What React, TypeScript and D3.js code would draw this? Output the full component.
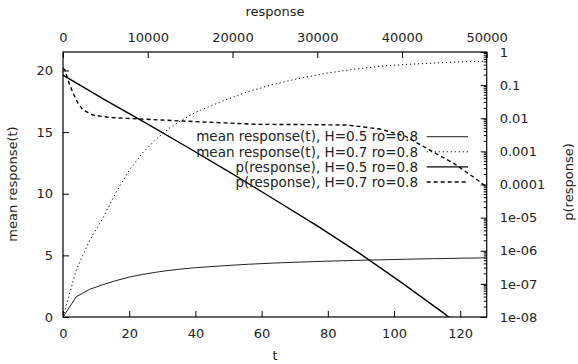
import React, { useRef, useEffect } from 'react';
import * as d3 from 'd3';

// mean response(t) series, bottom/left axes
const tValues = [0, 4, 8, 12, 16, 20, 24, 28, 32, 36, 40, 48, 56, 64, 72, 80, 88, 96, 104, 112, 120, 128];
const meanH05 = [0, 1.64, 2.24, 2.62, 2.95, 3.24, 3.45, 3.63, 3.78, 3.9, 4.0, 4.15, 4.28, 4.38, 4.46, 4.53, 4.59, 4.64, 4.69, 4.73, 4.77, 4.8];
const meanH07 = [0, 3.8, 6.2, 8.0, 10.1, 11.9, 13.3, 14.4, 15.3, 16.0, 16.6, 17.5, 18.3, 18.9, 19.4, 19.8, 20.1, 20.35, 20.5, 20.6, 20.7, 20.75];

// p(response) series, top/right axes
const respH05 = [0, 5000, 10000, 15000, 20000, 25000, 30000, 35000, 40000, 45000, 47000];
const pH05 = [0.2, 0.0355, 0.00661, 0.0012, 0.000209, 3.47e-5, 5.62e-6, 8.32e-7, 1.07e-7, 1.26e-8, 5.0e-9];
const respH07 = [0, 236, 590, 1180, 1770, 2360, 3540, 5546, 7552, 14160, 22892, 27966, 33512, 37406, 40356, 43306, 46256, 48616, 50000];
const pH07 = [0.329, 0.286, 0.143, 0.0577, 0.0288, 0.0177, 0.0125, 0.0105, 0.00993, 0.00822, 0.00655, 0.00646, 0.00624, 0.00472, 0.0029, 0.00109, 0.000413, 0.000156, 0.0000834];

const xTicks = [0, 20, 40, 60, 80, 100, 120];
const yTicks = [0, 5, 10, 15, 20];
const x2Ticks = [0, 10000, 20000, 30000, 40000, 50000];
const y2Ticks = [1, 0.1, 0.01, 0.001, 0.0001, 1e-5, 1e-6, 1e-7, 1e-8];
const y2Labels = ['1', '0.1', '0.01', '0.001', '0.0001', '1e-05', '1e-06', '1e-07', '1e-08'];

const legendLabels = [
    'mean response(t), H=0.5 ro=0.8',
    'mean response(t), H=0.7 ro=0.8',
    'p(response), H=0.5 ro=0.8',
    'p(response), H=0.7 ro=0.8'
];

const styles = [
    { stroke: '#222', width: 1, dash: null as string | null },
    { stroke: '#000', width: 1, dash: '1.2,2.8' },
    { stroke: '#000', width: 1.4, dash: null as string | null },
    { stroke: '#000', width: 1.4, dash: '4,3' }
];

const FONT = '"DejaVu Sans", sans-serif';

export default function App() {
    const svgRef = useRef<SVGSVGElement | null>(null);

    useEffect(() => {
        if (!svgRef.current) return;
        const svg = d3.select(svgRef.current);
        svg.selectAll('*').remove();

        const W = 578, H = 364;
        const left = 63, right = 486.7, top = 52, bottom = 317;

        const x = d3.scaleLinear().domain([0, 128]).range([left, right]);
        const y = d3.scaleLinear().domain([0, 21.5]).range([bottom, top]);
        const x2 = d3.scaleLinear().domain([0, 50000]).range([left, right]);
        const y2 = d3.scaleLog().domain([1e-8, 1]).range([bottom, top]);

        svg.attr('width', W).attr('height', H);

        svg.append('rect').attr('width', W).attr('height', H).attr('fill', '#fff');

        svg.append('defs').append('clipPath').attr('id', 'plotClip')
            .append('rect')
            .attr('x', left).attr('y', top)
            .attr('width', right - left).attr('height', bottom - top);

        const styleAxis = (g: d3.Selection<SVGGElement, unknown, null, undefined>) => {
            g.select('.domain').remove();
            g.selectAll('line').attr('stroke', '#000');
            g.selectAll('text').attr('fill', '#222').style('font-family', FONT).style('font-size', '13px');
        };

        // bottom axis
        svg.append('g')
            .attr('transform', `translate(0,${bottom})`)
            .call(d3.axisBottom(x).tickValues(xTicks).tickSizeInner(-6).tickSizeOuter(0).tickPadding(12))
            .call(styleAxis);

        // left axis
        svg.append('g')
            .attr('transform', `translate(${left},0)`)
            .call(d3.axisLeft(y).tickValues(yTicks).tickSizeInner(-6).tickSizeOuter(0).tickPadding(10))
            .call(styleAxis);

        // top axis
        svg.append('g')
            .attr('transform', `translate(0,${top})`)
            .call(d3.axisTop(x2).tickValues(x2Ticks).tickSizeInner(-6).tickSizeOuter(0).tickPadding(10).tickFormat(d3.format('d')))
            .call(styleAxis);

        // right axis (log)
        svg.append('g')
            .attr('transform', `translate(${right},0)`)
            .call(d3.axisRight(y2).tickValues(y2Ticks).tickSizeInner(-6).tickSizeOuter(0).tickPadding(13)
                .tickFormat((d, i) => y2Labels[i]))
            .call(styleAxis);

        // right axis minor ticks
        const minor: number[] = [];
        for (let e = -8; e < 0; e++) {
            for (let k = 2; k <= 9; k++) minor.push(k * Math.pow(10, e));
        }
        svg.append('g').selectAll('line').data(minor).join('line')
            .attr('x1', right - 3).attr('x2', right)
            .attr('y1', d => y2(d)).attr('y2', d => y2(d))
            .attr('stroke', '#000').attr('stroke-width', 1);

        // border
        svg.append('rect')
            .attr('x', left).attr('y', top)
            .attr('width', right - left).attr('height', bottom - top)
            .attr('fill', 'none').attr('stroke', '#000').attr('stroke-width', 1.2);

        // axis titles
        const label = (tx: number, ty: number, text: string, rotate = false) => {
            svg.append('text')
                .attr('transform', rotate ? `translate(${tx},${ty}) rotate(-90)` : `translate(${tx},${ty})`)
                .attr('text-anchor', 'middle')
                .attr('fill', '#222')
                .style('font-family', FONT).style('font-size', '13px')
                .text(text);
        };
        label(275, 16, 'response');
        label(275, 360, 't');
        label(17, 184, 'mean response(t)', true);
        label(573, 182, 'p(response)', true);

        const plot = svg.append('g').attr('clip-path', 'url(#plotClip)');

        const lineT = d3.line<number>().x((d, i) => x(tValues[i])).y(d => y(d));
        const lineR05 = d3.line<number>().x((d, i) => x2(respH05[i])).y(d => y2(d));
        const lineR07 = d3.line<number>().x((d, i) => x2(respH07[i])).y(d => y2(d));

        const series = [
            { data: meanH05, gen: lineT },
            { data: meanH07, gen: lineT },
            { data: pH05, gen: lineR05 },
            { data: pH07, gen: lineR07 }
        ];

        series.forEach((s, i) => {
            const st = styles[i];
            const p = plot.append('path')
                .datum(s.data)
                .attr('fill', 'none')
                .attr('stroke', st.stroke)
                .attr('stroke-width', st.width)
                .attr('d', s.gen);
            if (st.dash) p.attr('stroke-dasharray', st.dash);
        });

        // legend
        const legend = svg.append('g');
        legendLabels.forEach((txt, i) => {
            const ly = 136.7 + i * 15.1;
            legend.append('text')
                .attr('x', 418).attr('y', ly).attr('dy', '0.35em')
                .attr('text-anchor', 'end')
                .attr('fill', '#222')
                .style('font-family', FONT).style('font-size', '13.5px')
                .text(txt);
            const st = styles[i];
            const l = legend.append('line')
                .attr('x1', 426.7).attr('x2', 468)
                .attr('y1', ly).attr('y2', ly)
                .attr('stroke', st.stroke).attr('stroke-width', st.width);
            if (st.dash) l.attr('stroke-dasharray', st.dash);
        });
    }, []);

    return (
        <div style={{ position: 'absolute', left: 0, top: 0 }}>
            <svg ref={svgRef} style={{ display: 'block' }}></svg>
        </div>
    );
}
